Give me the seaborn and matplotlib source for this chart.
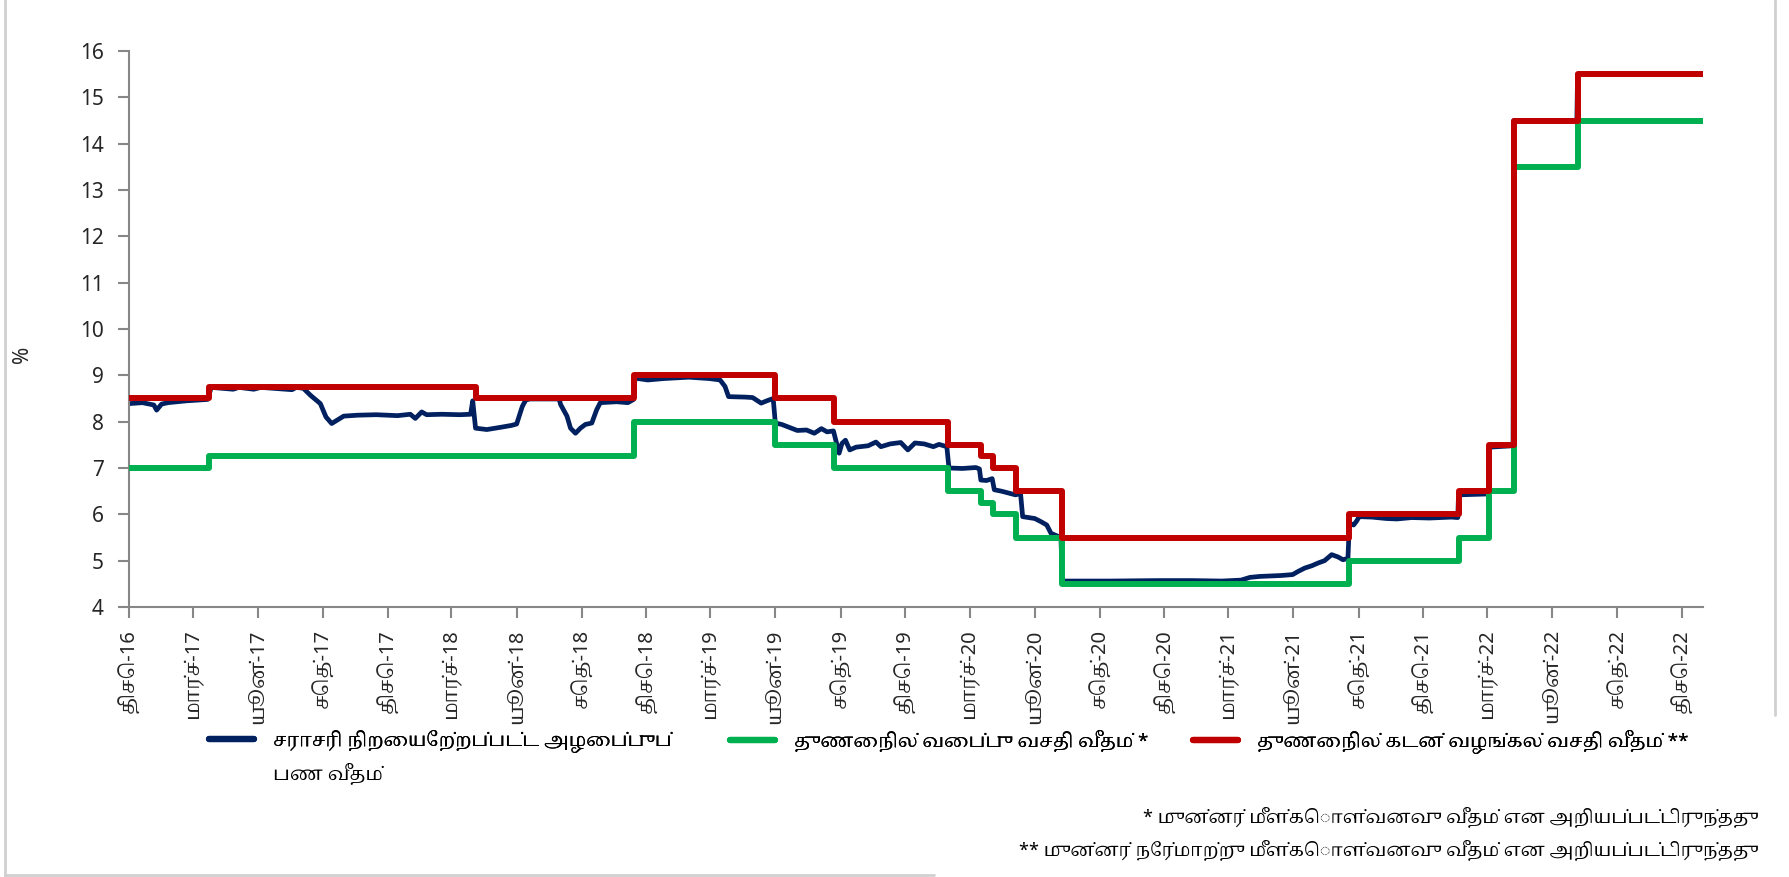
import pandas as pd
import numpy as np
import matplotlib as mpl
import matplotlib.pyplot as plt
from matplotlib.lines import Line2D
from matplotlib import font_manager as fm
from matplotlib.ft2font import FT2Font
import seaborn as sns

# Average weighted call money rate
CALL_DATES = [
    "2016-12-01", "2016-12-20", "2017-01-05", "2017-01-09", "2017-01-16", "2017-01-25",
    "2017-02-20", "2017-03-22", "2017-03-27", "2017-04-27", "2017-05-05", "2017-05-26",
    "2017-06-05", "2017-07-19", "2017-07-25", "2017-08-04", "2017-08-14", "2017-08-28",
    "2017-09-05", "2017-09-13", "2017-09-30", "2017-10-20", "2017-11-15", "2017-12-15",
    "2018-01-02", "2018-01-09", "2018-01-18", "2018-01-25", "2018-02-15", "2018-03-13",
    "2018-03-28", "2018-03-31", "2018-04-04", "2018-04-20", "2018-05-10", "2018-05-25",
    "2018-06-01", "2018-06-09", "2018-06-14", "2018-06-20", "2018-07-31", "2018-08-02",
    "2018-08-11", "2018-08-16", "2018-08-23", "2018-08-30", "2018-09-06", "2018-09-15",
    "2018-09-22", "2018-09-27", "2018-10-20", "2018-11-05", "2018-11-13", "2018-11-15",
    "2018-12-03", "2018-12-25", "2019-01-30", "2019-02-28", "2019-03-15", "2019-03-22",
    "2019-03-27", "2019-04-20", "2019-04-30", "2019-05-12", "2019-05-20", "2019-05-29",
    "2019-06-01", "2019-06-10", "2019-07-02", "2019-07-15", "2019-07-26", "2019-08-05",
    "2019-08-13", "2019-08-22", "2019-08-30", "2019-09-03", "2019-09-08", "2019-09-14",
    "2019-09-23", "2019-10-10", "2019-10-21", "2019-10-28", "2019-11-10", "2019-11-25",
    "2019-12-05", "2019-12-15", "2019-12-28", "2020-01-10", "2020-01-18", "2020-01-29",
    "2020-02-01", "2020-02-20", "2020-03-10", "2020-03-15", "2020-03-17", "2020-03-25",
    "2020-04-02", "2020-04-05", "2020-04-15", "2020-04-25", "2020-05-05", "2020-05-12",
    "2020-05-15", "2020-06-01", "2020-06-10", "2020-06-18", "2020-06-24", "2020-07-08",
    "2020-07-10", "2020-09-15", "2020-11-20", "2021-01-10", "2021-02-20", "2021-03-19",
    "2021-04-01", "2021-04-15", "2021-05-15", "2021-05-31", "2021-06-08", "2021-06-17",
    "2021-06-27", "2021-07-06", "2021-07-15", "2021-07-25", "2021-08-03", "2021-08-10",
    "2021-08-17", "2021-08-19", "2021-08-25", "2021-08-29", "2021-09-02", "2021-09-20",
    "2021-10-10", "2021-10-25", "2021-11-15", "2021-12-10", "2022-01-10", "2022-01-19",
    "2022-01-20", "2022-03-03", "2022-03-05", "2022-04-07", "2022-04-08", "2022-07-06",
    "2022-07-07", "2022-12-30",
]
CALL_RATE = [
    8.39, 8.41, 8.36, 8.25, 8.38, 8.41,
    8.45, 8.48, 8.74, 8.70, 8.74, 8.70,
    8.74, 8.69, 8.74, 8.72, 8.57, 8.39,
    8.10, 7.96, 8.12, 8.14, 8.15, 8.13,
    8.16, 8.07, 8.21, 8.15, 8.16, 8.15,
    8.16, 8.45, 7.86, 7.83, 7.88, 7.92,
    7.95, 8.33, 8.47, 8.49, 8.49, 8.37,
    8.12, 7.86, 7.75, 7.86, 7.94, 7.97,
    8.26, 8.41, 8.43, 8.41, 8.48, 8.94,
    8.90, 8.93, 8.96, 8.93, 8.90, 8.76,
    8.54, 8.53, 8.52, 8.40, 8.45, 8.50,
    7.97, 7.94, 7.81, 7.82, 7.75, 7.85,
    7.78, 7.80, 7.32, 7.53, 7.60, 7.39,
    7.45, 7.48, 7.56, 7.46, 7.52, 7.55,
    7.39, 7.54, 7.52, 7.46, 7.51, 7.46,
    7.00, 6.99, 7.01, 6.98, 6.74, 6.73,
    6.77, 6.53, 6.50, 6.46, 6.42, 6.45,
    5.95, 5.91, 5.84, 5.77, 5.59, 5.50,
    4.56, 4.56, 4.57, 4.57, 4.56, 4.58,
    4.64, 4.66, 4.68, 4.70, 4.77, 4.84,
    4.89, 4.95, 5.00, 5.13, 5.08, 5.02,
    5.05, 5.81, 5.77, 5.85, 5.95, 5.94,
    5.91, 5.90, 5.93, 5.92, 5.94, 5.93,
    6.42, 6.44, 7.45, 7.48, 14.50, 14.50,
    15.50, 15.50,
]

# Policy corridor: change dates, standing deposit / lending facility rates
POLICY_DATES = [
    "2016-12-01", "2017-03-24", "2018-04-04", "2018-11-14", "2019-05-31", "2019-08-23",
    "2020-01-30", "2020-03-17", "2020-04-03", "2020-05-06", "2020-07-09", "2021-08-19",
    "2022-01-20", "2022-03-04", "2022-04-08", "2022-07-07", "2022-12-31",
]
SDFR = [7.00, 7.25, 7.25, 8.00, 7.50, 7.00, 6.50, 6.25, 6.00, 5.50, 4.50, 5.00,
        5.50, 6.50, 13.50, 14.50, 14.50]
SLFR = [8.50, 8.75, 8.50, 9.00, 8.50, 8.00, 7.50, 7.25, 7.00, 6.50, 5.50, 6.00,
        6.50, 7.50, 14.50, 15.50, 15.50]

TICK_LABELS = [
    "திசெ-16", "மார்ச்-17", "யூன்-17", "செத்-17", "திசெ-17", "மார்ச்-18", "யூன்-18",
    "செத்-18", "திசெ-18", "மார்ச்-19", "யூன்-19", "செத்-19", "திசெ-19", "மார்ச்-20",
    "யூன்-20", "செத்-20", "திசெ-20", "மார்ச்-21", "யூன்-21", "செத்-21", "திசெ-21",
    "மார்ச்-22", "யூன்-22", "செத்-22", "திசெ-22",
]
SERIES_NAMES = [
    "சராசரி நிறையேற்றப்பட்ட அழைப்புப்\nபண வீதம்",
    "துணைநில் வைப்பு வசதி வீதம் *",
    "துணைநில் கடன் வழங்கல் வசதி வீதம் **",
]
FOOTNOTES = [
    "* முன்னர் மீள்கொள்வனவு வீதம் என அறியப்பட்டிருந்தது",
    "** முன்னர் நேர்மாற்று மீள்கொள்வனவு வீதம் என அறியப்பட்டிருந்தது",
]
COLORS = ["#002060", "#00B050", "#C00000"]

call = pd.DataFrame({"date": pd.to_datetime(CALL_DATES), "rate": CALL_RATE})
policy = pd.DataFrame({"date": pd.to_datetime(POLICY_DATES), "sdfr": SDFR, "slfr": SLFR})


def find_tamil_font():
    names = []
    for f in fm.fontManager.ttflist:
        try:
            if 0x0BA4 in FT2Font(f.fname).get_charmap():
                names.append(f.name)
        except Exception:
            continue
    for pref in ("Noto Serif Tamil", "Noto Sans Tamil", "Lohit Tamil", "FreeSerif",
                 "FreeSans", "Samyak Tamil"):
        if pref in names:
            return pref
    rest = [n for n in names if "mono" not in n.lower()]
    return (rest or names or [None])[0]


sns.set_theme(style="white")
tamil = find_tamil_font()
families = ["Noto Sans"] + ([tamil] if tamil else []) + ["DejaVu Sans"]
mpl.rcParams["font.family"] = families
mpl.rcParams["text.color"] = "#000000"

fig = plt.figure(figsize=(17.9, 8.77), dpi=100)
fig.subplots_adjust(left=129 / 1790, right=1703 / 1790, top=1 - 51 / 877, bottom=1 - 607 / 877)
ax = fig.add_subplot(111)

sns.lineplot(data=call, x="date", y="rate", color=COLORS[0], lw=3.4, ax=ax,
             estimator=None, sort=False, zorder=2, solid_capstyle="round")
sns.lineplot(data=policy, x="date", y="sdfr", color=COLORS[1], lw=4.3, ax=ax,
             estimator=None, sort=False, drawstyle="steps-post", zorder=3,
             solid_capstyle="round")
sns.lineplot(data=policy, x="date", y="slfr", color=COLORS[2], lw=4.3, ax=ax,
             estimator=None, sort=False, drawstyle="steps-post", zorder=4,
             solid_capstyle="round")

ax.set_xlim(pd.Timestamp("2016-12-01"), pd.Timestamp("2022-12-31"))
ax.set_ylim(4, 16)
ax.set_yticks(np.arange(4, 17, 1))
ticks = pd.date_range("2016-12-01", "2022-12-01", freq="3MS")
ax.set_xticks(ticks)
ax.set_xticklabels(TICK_LABELS, rotation=90, fontsize=14.5)
ax.tick_params(axis="y", labelsize=15, direction="out", length=8, width=1.5,
               color="#878787", pad=10, left=True)
ax.tick_params(axis="x", direction="out", length=8, width=1.5, color="#878787",
               pad=8, bottom=True)
ax.set_xlabel("")
ax.set_ylabel("%", fontsize=15)
ax.yaxis.set_label_coords(-0.061, 0.455)
sns.despine(ax=ax, top=True, right=True)
for side in ("left", "bottom"):
    ax.spines[side].set_color("#878787")
    ax.spines[side].set_linewidth(1.5)

# legend entries, one per series; the wrapped second line of the first name
# is set under the first line, as in the source layout
legend_x = [209 / 1790, 730 / 1790, 1193 / 1790]
legends = []
for name, col, lx in zip(SERIES_NAMES, COLORS, legend_x):
    h = Line2D([], [], color=col, lw=4.5)
    first = name.split("\n")[0]
    leg = fig.legend([h], [first], loc="upper left", bbox_to_anchor=(lx, 1 - 730 / 877),
                     frameon=False, fontsize=13.5, handlelength=2.4, handletextpad=1.0,
                     borderpad=0, borderaxespad=0)
    fig.add_artist(leg)
    legends.append(leg)

fig.canvas.draw()
txt = legends[0].get_texts()[0]
bb = txt.get_window_extent()
second = SERIES_NAMES[0].split("\n")[1]
fig.text(bb.x0 / fig.bbox.width, (bb.y0 - 9) / fig.bbox.height, second,
         ha="left", va="top", fontsize=13.5)

fig.text(1758 / 1790, 1 - 818 / 877, FOOTNOTES[0], ha="right", va="center", fontsize=13)
fig.text(1758 / 1790, 1 - 851 / 877, FOOTNOTES[1], ha="right", va="center", fontsize=13)

# light frame around the chart
frame = dict(color="#d0d0d0", lw=2, transform=fig.transFigure)
fig.add_artist(Line2D([5 / 1790, 5 / 1790], [0, 1], **frame))
fig.add_artist(Line2D([5 / 1790, 934 / 1790], [1 - 875 / 877, 1 - 875 / 877], **frame))
fig.add_artist(Line2D([1775 / 1790, 1775 / 1790], [1, 1 - 715 / 877], **frame))

fig.savefig("out.png", dpi=100, facecolor="white")
